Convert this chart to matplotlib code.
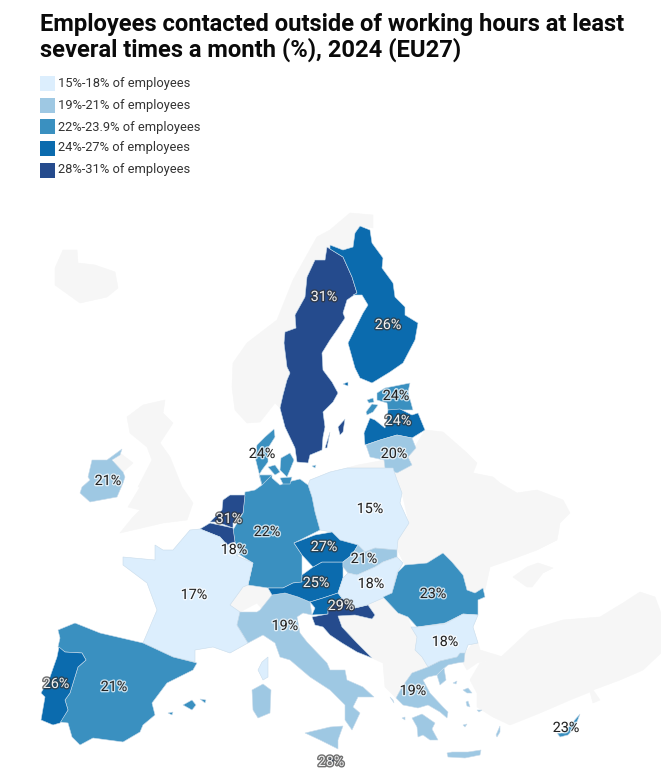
import matplotlib
matplotlib.use("Agg")
import matplotlib.pyplot as plt
import matplotlib.patheffects as pe
from matplotlib.patches import Polygon, Rectangle

plt.rcParams['font.family'] = ['Roboto', 'DejaVu Sans']

TITLE = "Employees contacted outside of working hours at least\nseveral times a month (%), 2024 (EU27)"
LEGEND_LABELS = ["15%-18% of employees", "19%-21% of employees", "22%-23.9% of employees",
                 "24%-27% of employees", "28%-31% of employees"]
CLASS_COLOURS = ['#DCEEFD', '#9EC8E3', '#3A90C0', '#0B6BAE', '#254B8D']
GREY = '#F6F6F6'

# Non-EU land outlines
iceland = [(55,268),(63,250),(77,250),(78,263),(95,265),(115,272),(118,288),(107,297),(80,303),(55,285)]
norway = [(233,363),(247,343),(277,320),(293,280),(317,237),(330,230),(350,213),(373,215),(373,228),(360,226),
          (355,233),(353,247),(343,250),(327,247),(325,260),(315,260),(307,277),(305,297),(295,315),(296,328),
          (285,332),(284,343),(287,367),(290,373),(287,380),(283,395),(280,408),(275,403),(260,422),
          (247,423),(235,410),(232,387)]
britain = [(127,417),(143,405),(165,400),(163,413),(173,423),(160,443),(170,457),(182,487),(193,503),(187,520),
           (163,523),(120,533),(133,517),(140,510),(128,507),(140,487),(138,487),(152,460),(147,447),(130,433)]
n_ireland = [(120,453),(133,463),(123,472),(112,463)]
switzerland = [(230,605),(243,587),(263,583),(268,588),(272,595),(285,593),(277,600),(270,605),(263,610),(257,603),(240,612)]
balkans = [(367,605),(383,598),(408,617),(411,627),(417,637),(415,650),(422,657),(428,667),(412,673),(402,687),
           (396,698),(385,687),(383,663),(372,658),(357,643),(342,627),(338,616),(355,615),(372,619),(375,615),(368,605)]
east = [(425,430),(443,432),(467,453),(477,463),(473,473),(493,477),(500,483),(517,493),(537,490),(563,500),
        (570,513),(560,523),(557,540),(537,550),(510,560),(490,567),(485,590),(483,588),(475,593),(467,590),
        (463,575),(452,562),(443,553),(427,563),(405,565),(398,551),(398,540),(409,523),(402,493),(397,480),
        (393,468),(412,465),(408,457),(416,445)]
kaliningrad = [(358,465),(385,460),(393,468),(347,468)]
crimea = [(513,577),(527,567),(538,563),(553,568),(543,573),(532,587),(527,587)]
thrace = [(465,653),(473,643),(478,643),(480,650),(503,657),(477,663),(467,670),(463,663)]
anatolia = [(470,680),(480,663),(500,658),(530,630),(563,620),(600,617),(623,603),(640,592),(655,597),(661,613),
            (661,653),(643,670),(620,680),(593,690),(600,700),(593,703),(590,692),(570,700),(540,713),(510,725),
            (493,717),(477,707),(477,693)]
grey_land = [iceland, norway, britain, n_ireland, switzerland, balkans, east, kaliningrad, crimea, thrace, anatolia]

# EU member outlines
sweden = [(327,247),(343,257),(352,277),(357,293),(347,300),(343,313),(345,318),(337,330),(330,340),(322,353),
          (323,370),(332,382),(338,393),(333,402),(323,412),(325,427),(323,437),(322,450),(310,455),(308,463),
          (297,462),(295,448),(285,427),(280,408),(283,395),(287,380),(290,373),(287,367),(284,343),(285,332),
          (296,328),(295,315),(305,297),(307,277),(315,260),(325,260)]
gotland = [(338,427),(345,419),(343,432),(340,435)]
oland = [(325,448),(330,432),(327,448)]
finland = [(360,226),(370,230),(372,243),(383,258),(382,268),(393,283),(395,297),(405,307),(405,315),(418,323),
           (415,340),(403,363),(390,372),(372,383),(360,378),(355,368),(348,343),(353,333),(363,313),(368,305),
           (362,295),(353,295),(357,293),(352,277),(343,257),(330,249),(330,245),(343,250),(353,247),(355,233)]
aland = [(343,384),(348,382),(348,386)]
estonia = [(377,393),(385,388),(410,383),(408,392),(413,410),(400,410),(388,410),(387,403),(377,400)]
saaremaa = [(366,412),(372,404),(378,405),(373,412),(367,415)]
hiiumaa = [(367,400),(373,398),(374,402),(369,403)]
latvia = [(388,410),(400,409),(412,415),(418,413),(425,430),(412,438),(397,435),(380,440),(365,445),(364,433),
          (370,418),(375,420),(385,428),(387,420)]
lithuania = [(366,445),(380,440),(397,435),(412,438),(416,448),(408,457),(412,465),(397,473),(385,468),(384,460),(370,457)]
poland = [(308,485),(310,480),(330,472),(347,468),(393,468),(397,480),(402,493),(400,503),(409,523),(398,540),
          (397,550),(375,548),(365,552),(358,545),(340,540),(332,532),(320,530),(315,512),(312,497)]
germany = [(245,492),(255,490),(262,485),(259,475),(272,475),(272,478),(280,485),(288,482),(300,479),(308,485),
           (312,497),(315,512),(320,530),(294,543),(302,555),(302,575),(302,582),(293,583),(283,588),(268,588),
           (248,585),(253,563),(237,553),(235,542),(233,530),(243,513)]
jutland = [(255,457),(257,445),(265,437),(274,429),(275,437),(268,448),(268,462),(262,470),(259,475),(272,475),(262,485)]
zealand = [(281,458),(290,453),(294,460),(290,470),(287,477),(280,470)]
funen = [(268,467),(275,465),(280,472),(275,475)]
lolland = [(280,478),(292,477),(290,484),(283,484)]
bornholm = [(312,466),(316,465),(315,468)]
netherlands = [(230,495),(245,495),(243,513),(233,523),(233,528),(217,522),(210,522),(222,510),(223,500)]
belgium = [(200,529),(210,523),(233,528),(235,542),(227,545),(220,537)]
luxembourg = [(235,543),(240,552),(237,556),(234,550)]
france = [(190,530),(200,529),(220,537),(227,545),(234,550),(237,556),(253,563),(248,585),(243,587),(230,605),
          (240,612),(237,625),(248,643),(230,653),(213,647),(195,650),(195,662),(173,657),(143,643),(157,610),
          (147,583),(123,565),(123,557),(155,560),(155,545),(163,550),(173,550)]
corsica = [(258,670),(262,662),(268,657),(268,677),(263,680)]
sardinia = [(252,690),(263,684),(271,690),(270,713),(258,718),(253,710)]
spain = [(58,630),(75,623),(100,633),(143,643),(173,657),(197,663),(193,670),(167,683),(152,703),(155,715),
         (143,725),(140,732),(123,742),(93,738),(80,745),(72,737),(68,723),(60,722),(68,710),(65,700),(70,693),
         (78,667),(86,660),(82,653),(65,652),(58,647),(60,638)]
portugal = [(59,647),(65,652),(82,653),(86,660),(78,667),(70,693),(65,700),(68,710),(60,723),(53,725),(41,720),
            (45,697),(41,693),(50,677),(57,657)]
mallorca = [(183,705),(192,700),(196,705),(192,710)]
menorca = [(200,699),(206,700),(205,703)]
ibiza = [(168,713),(173,712),(172,715)]
italy = [(240,612),(257,612),(260,610),(272,595),(285,593),(298,597),(310,602),(312,615),(303,613),(297,617),
         (300,633),(307,642),(327,663),(330,670),(345,670),(347,680),(363,687),(374,697),(367,697),(358,697),
         (353,707),(360,713),(352,730),(345,720),(345,705),(330,690),(310,677),(290,660),(280,657),(275,643),
         (263,635),(248,643),(237,625)]
sicily = [(305,733),(330,727),(343,726),(338,740),(338,749),(330,745),(320,740)]
malta = [(329,758),(333,758),(333,761),(329,761)]
austria = [(268,588),(283,588),(293,583),(302,582),(302,575),(313,567),(322,562),(343,562),(343,578),(340,587),
           (338,593),(323,598),(310,602),(298,597),(285,593),(272,595)]
slovenia = [(310,602),(323,598),(338,593),(342,598),(328,608),(328,614),(312,615),(315,608)]
croatia = [(342,598),(355,608),(368,605),(375,615),(372,619),(355,615),(338,616),(342,627),(357,643),(372,658),
           (357,652),(342,643),(330,635),(323,627),(315,625),(312,617),(328,614),(328,608)]
czechia = [(294,543),(315,535),(332,532),(340,540),(358,545),(352,555),(343,562),(322,562),(313,567),(302,555)]
slovakia = [(343,562),(352,555),(358,545),(365,552),(375,548),(397,550),(397,557),(383,562),(375,567),(357,575),
            (348,573),(343,567)]
hungary = [(343,578),(348,573),(357,575),(375,567),(383,562),(397,557),(403,563),(397,573),(392,593),(383,598),
           (367,605),(355,608),(342,598),(338,593),(340,587)]
romania = [(405,565),(427,563),(443,553),(452,562),(463,575),(467,590),(475,593),(483,588),(485,597),(478,600),
           (478,615),(463,614),(445,623),(417,627),(408,617),(398,613),(383,597),(392,593),(398,572)]
bulgaria = [(411,627),(417,627),(445,624),(463,614),(478,615),(473,627),(478,643),(468,645),(465,653),(457,657),
            (440,661),(428,667),(422,657),(415,650),(417,637)]
greece = [(465,653),(464,662),(457,663),(448,665),(442,670),(437,675),(428,677),(423,680),(430,693),(443,707),
          (448,712),(447,718),(440,712),(428,705),(418,708),(403,705),(396,698),(402,687),(412,673),(428,667),
          (440,661),(457,657),(460,653)]
chalkidiki = [(437,675),(444,668),(446,680),(440,685)]
peloponnese = [(412,718),(422,714),(435,723),(432,729),(438,740),(430,740),(423,735),(418,737),(417,727)]
crete = [(447,753),(452,752),(468,752),(481,750),(480,755),(465,758),(448,757)]
lesbos = [(463,690),(468,688),(472,693),(467,693)]
chios = [(466,702),(468,701),(470,707),(467,706)]
rhodes = [(496,735),(500,726),(500,732),(497,737)]
corfu = [(390,697),(393,700),(394,703)]
kefalonia = [(402,718),(405,717),(405,720)]
cyclades = [(463,725),(467,724),(465,727)]
sporades = [(453,683),(457,681),(456,684)]
samos = [(477,710),(482,710),(479,712)]
cyprus = [(557,733),(563,733),(573,722),(580,714),(575,727),(568,735),(560,737)]
ireland = [(107,460),(122,449),(120,455),(112,460),(123,472),(125,477),(123,483),(117,497),(90,502),(80,493),
           (82,487),(90,480),(88,477),(92,460)]

country_names = ['Sweden','Finland','Estonia','Latvia','Lithuania','Poland','Germany','Denmark','Netherlands',
                 'Belgium','Luxembourg','France','Spain','Portugal','Italy','Austria','Slovenia','Croatia',
                 'Czechia','Slovakia','Hungary','Romania','Bulgaria','Greece','Cyprus','Malta','Ireland']
country_shapes = [[sweden,gotland,oland],[finland,aland],[estonia,saaremaa,hiiumaa],[latvia],[lithuania],[poland],[germany],
                  [jutland,zealand,funen,lolland,bornholm],[netherlands],[belgium],[luxembourg],[france,corsica],
                  [spain,mallorca,menorca,ibiza],[portugal],[italy,sardinia,sicily],[austria],[slovenia],[croatia],
                  [czechia],[slovakia],[hungary],[romania],[bulgaria],
                  [greece,chalkidiki,peloponnese,crete,lesbos,chios,rhodes,corfu,kefalonia,cyclades,sporades,samos],
                  [cyprus],[malta],[ireland]]
country_values = [31,26,24,24,20,15,22,24,31,31,18,17,21,26,19,25,None,29,27,21,18,23,18,19,23,28,21]
country_classes = [4,3,2,3,1,0,2,2,4,4,0,0,2,3,1,3,3,4,3,1,0,2,0,1,2,4,1]
label_x = [324,388,396,398,394,370,267,262,229,None,234,194,114,56,285,316,None,341,324,364,371,433,445,413,566,331,108]
label_y = [297,325,396,421,454,509,532,454,519,None,550,595,687,684,626,583,None,606,547,559,584,594,642,691,728,762,481]

fig = plt.figure(figsize=(6.61, 7.75), dpi=100)
ax = fig.add_axes([0, 0, 1, 1])
ax.set_xlim(0, 661)
ax.set_ylim(775, 0)
ax.axis('off')

for shape in grey_land:
    ax.add_patch(Polygon(shape, closed=True, fc=GREY, ec=GREY, lw=0.4, zorder=1))

for shapes, cls in zip(country_shapes, country_classes):
    for shape in shapes:
        ax.add_patch(Polygon(shape, closed=True, fc=CLASS_COLOURS[cls], ec='#C9DCEB', lw=0.4, zorder=2))

for x, y, val, cls in zip(label_x, label_y, country_values, country_classes):
    if x is None or val is None:
        continue
    dark_bg = cls >= 3
    ax.text(x, y, f"{val}%", ha='center', va='center', fontsize=10.3, zorder=5,
            color='#F0F0F0' if dark_bg else '#222222',
            path_effects=[pe.withStroke(linewidth=2, foreground='#333333' if dark_bg else '#FFFFFF', alpha=0.7)])

ax.text(40, 37.5, TITLE, ha='left', va='center', fontsize=17.1, fontweight='bold', color='#0A0A0A', linespacing=1.12)

legend_text_y = [84, 105, 127, 148, 169]
legend_box_top = [76, 98, 119, 141, 163]
for lab, col, ty, by in zip(LEGEND_LABELS, CLASS_COLOURS, legend_text_y, legend_box_top):
    ax.add_patch(Rectangle((40, by), 15, 15, fc=col, ec='none', zorder=3))
    ax.text(58.5, ty, lab, ha='left', va='center', fontsize=9.3, color='#333333')

fig.savefig('out.png', dpi=100)
